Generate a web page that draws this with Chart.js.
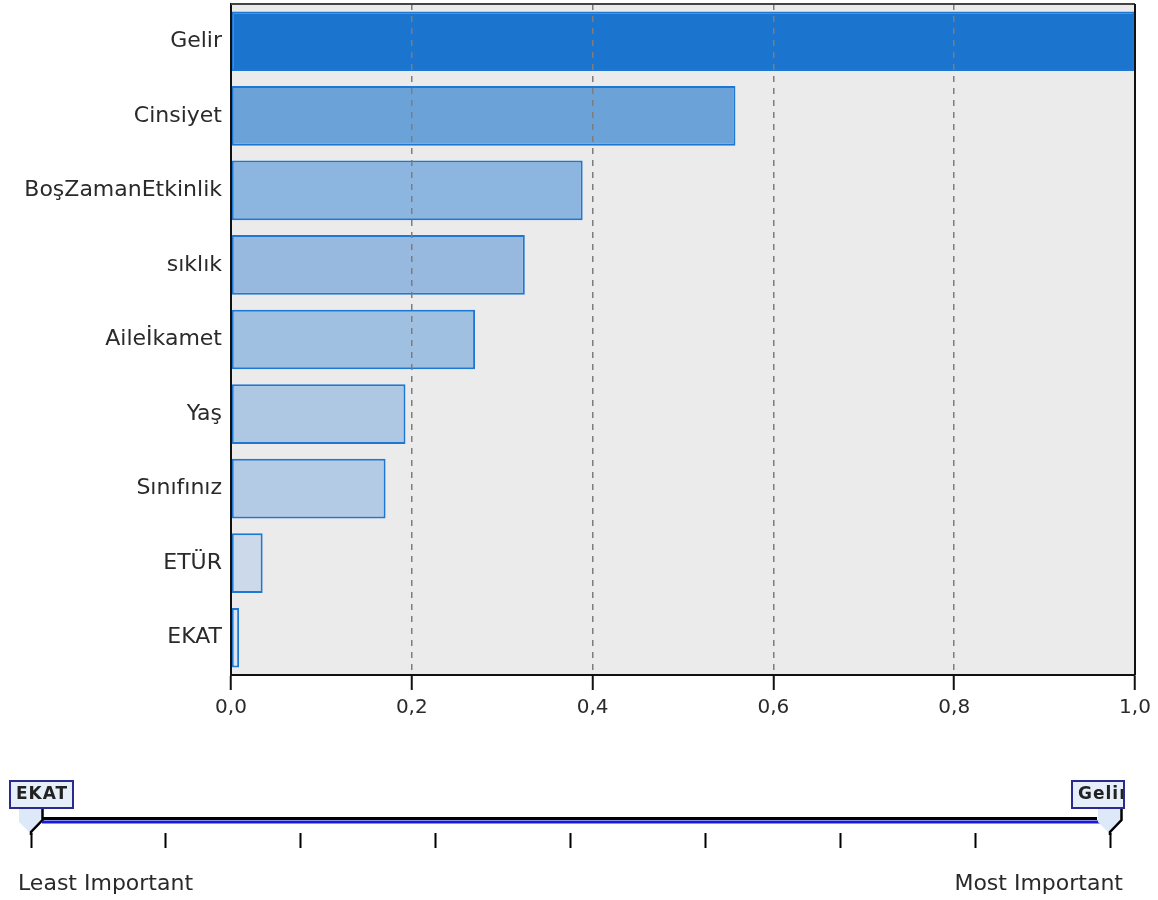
<!DOCTYPE html>
<html>
<head>
<meta charset="utf-8">
<script src="https://cdn.jsdelivr.net/npm/chart.js@4.4.1/dist/chart.umd.min.js"></script>
<style>
  body { margin: 0; background: #fff; }
  canvas { display: block; }
</style>
</head>
<body>
<canvas id="chart" width="1158" height="740"></canvas>
<canvas id="slider" width="1158" height="160"></canvas>
<script>
// predictor importance
const predictors = ['Gelir', 'Cinsiyet', 'BoşZamanEtkinlik', 'sıklık', 'Aileİkamet', 'Yaş', 'Sınıfınız', 'ETÜR', 'EKAT']
const importance = [1.0, 0.558, 0.389, 0.325, 0.270, 0.193, 0.171, 0.035, 0.009]
const xTicks = [0, 0.2, 0.4, 0.6, 0.8, 1.0]
const sliderEnds = ['Least Important', 'Most Important']

const barColors = ['#1b75cf', '#6ba3d9', '#8cb5e0', '#97b9df', '#a0c0e1', '#aec8e4', '#b3cbe5', '#cbd9ea', '#dce3ec']
const FONT = 'DejaVu Sans'

// rank positions for the slider (0 = least important)
const ranks = predictors.map((_, i) => i)
const mostName = predictors[importance.indexOf(Math.max(...importance))]
const leastName = predictors[importance.indexOf(Math.min(...importance))]

const plotFrame = {
    id: 'plotFrame',
    beforeDraw(chart) {
        const {ctx, chartArea: a} = chart
        ctx.save()
        ctx.fillStyle = '#ebebeb'
        ctx.fillRect(a.left, a.top, a.right - a.left, a.bottom - a.top)
        ctx.restore()
    },
    afterDraw(chart) {
        const {ctx, chartArea: a} = chart
        ctx.save()
        ctx.lineWidth = 2
        ctx.strokeStyle = '#444'
        ctx.beginPath()
        ctx.moveTo(a.left, a.top)
        ctx.lineTo(a.right, a.top)
        ctx.stroke()
        ctx.strokeStyle = '#111'
        ctx.beginPath()
        ctx.moveTo(a.right, a.top)
        ctx.lineTo(a.right, a.bottom)
        ctx.stroke()
        ctx.restore()
    }
}

Chart.defaults.font.family = FONT
Chart.defaults.color = '#2a2a2a'
Chart.defaults.animation = false
Chart.defaults.plugins.legend.display = false
Chart.defaults.plugins.tooltip.enabled = false

new Chart(document.getElementById('chart'), {
    type: 'bar',
    data: {
        labels: predictors,
        datasets: [{
            data: importance,
            backgroundColor: barColors,
            borderColor: '#1e77d3',
            borderWidth: 2,
            borderSkipped: false,
            categoryPercentage: 0.8,
            barPercentage: 1.0
        }]
    },
    options: {
        indexAxis: 'y',
        responsive: false,
        layout: {padding: {top: 4, right: 23, left: 0, bottom: 0}},
        scales: {
            x: {
                min: 0,
                max: 1,
                afterFit: s => { s.height = 65 },
                afterBuildTicks: s => { s.ticks = xTicks.map(v => ({value: v})) },
                grid: {z: 1, color: '#7d7d7d', lineWidth: 1.5, tickLength: 15, tickColor: '#111', tickWidth: 2},
                border: {z: 1, color: '#111', width: 2, dash: [6, 6]},
                ticks: {
                    padding: 6,
                    font: {size: 20},
                    callback: v => v.toFixed(1).replace('.', ',')
                }
            },
            y: {
                afterFit: s => { s.width = 231; s.paddingTop = 0; s.paddingBottom = 0 },
                grid: {display: false, drawTicks: false},
                border: {z: 1, color: '#111', width: 2},
                ticks: {padding: 9, font: {size: 22}}
            }
        }
    },
    plugins: [plotFrame]
})

// slider under the chart
const sliderMarks = {
    id: 'sliderMarks',
    afterDraw(chart) {
        const ctx = chart.ctx
        const x = chart.scales.x
        const p0 = x.getPixelForValue(ranks[0])
        const p1 = x.getPixelForValue(ranks[ranks.length - 1])
        ctx.save()
        // slider rail
        ctx.lineCap = 'butt'
        ctx.strokeStyle = '#1a1adc'
        ctx.lineWidth = 3
        ctx.beginPath(); ctx.moveTo(p0 + 11, 82); ctx.lineTo(p1 - 10, 82); ctx.stroke()
        ctx.strokeStyle = '#000'
        ctx.lineWidth = 3
        ctx.beginPath(); ctx.moveTo(p0 + 11, 78.5); ctx.lineTo(p1 - 13, 78.5); ctx.stroke()

        const marker = (px, name, boxL, boxR) => {
            ctx.fillStyle = '#dde9f8'
            ctx.beginPath()
            ctx.moveTo(px - 12, 68); ctx.lineTo(px + 12, 68); ctx.lineTo(px + 12, 81)
            ctx.lineTo(px, 94); ctx.lineTo(px - 12, 82); ctx.closePath(); ctx.fill()
            ctx.strokeStyle = '#000'
            ctx.lineWidth = 2.5
            ctx.beginPath()
            ctx.moveTo(px + 11.5, 68); ctx.lineTo(px + 11.5, 80); ctx.lineTo(px, 92); ctx.lineTo(px, 95); ctx.stroke()
            // label box
            ctx.fillStyle = '#e6eef9'
            ctx.fillRect(boxL, 41, boxR - boxL, 27)
            ctx.save()
            ctx.beginPath(); ctx.rect(boxL, 41, boxR - boxL - 1, 27); ctx.clip()
            ctx.fillStyle = '#222'
            ctx.font = '600 17px ' + FONT
            ctx.letterSpacing = '1px'
            ctx.textBaseline = 'middle'
            ctx.fillText(name, boxL + 6, 55)
            ctx.restore()
            ctx.strokeStyle = '#2b2b8f'
            ctx.lineWidth = 2
            ctx.strokeRect(boxL, 41, boxR - boxL, 27)
        }
        marker(p0, leastName, p0 - 21, p0 + 42)
        marker(p1, mostName, p1 - 38, p1 + 14)

        ctx.fillStyle = '#2a2a2a'
        ctx.font = '22px ' + FONT
        ctx.textBaseline = 'alphabetic'
        ctx.textAlign = 'left'
        ctx.fillText(sliderEnds[0], 18, 150)
        ctx.textAlign = 'right'
        ctx.fillText(sliderEnds[1], 1123, 150)
        ctx.restore()
    }
}

new Chart(document.getElementById('slider'), {
    type: 'scatter',
    data: {
        datasets: [{data: ranks.map(r => ({x: r, y: 0})), pointRadius: 0}]
    },
    options: {
        responsive: false,
        layout: {padding: {left: 31, right: 48, top: 60, bottom: 52}},
        scales: {
            x: {
                min: ranks[0],
                max: ranks[ranks.length - 1],
                afterFit: s => { s.height = 15 },
                ticks: {display: false, stepSize: 1},
                grid: {drawOnChartArea: false, tickLength: 15, tickColor: '#000', tickWidth: 2},
                border: {display: false}
            },
            y: {display: false, min: 0, max: 1}
        }
    },
    plugins: [sliderMarks]
})
</script>
</body>
</html>
